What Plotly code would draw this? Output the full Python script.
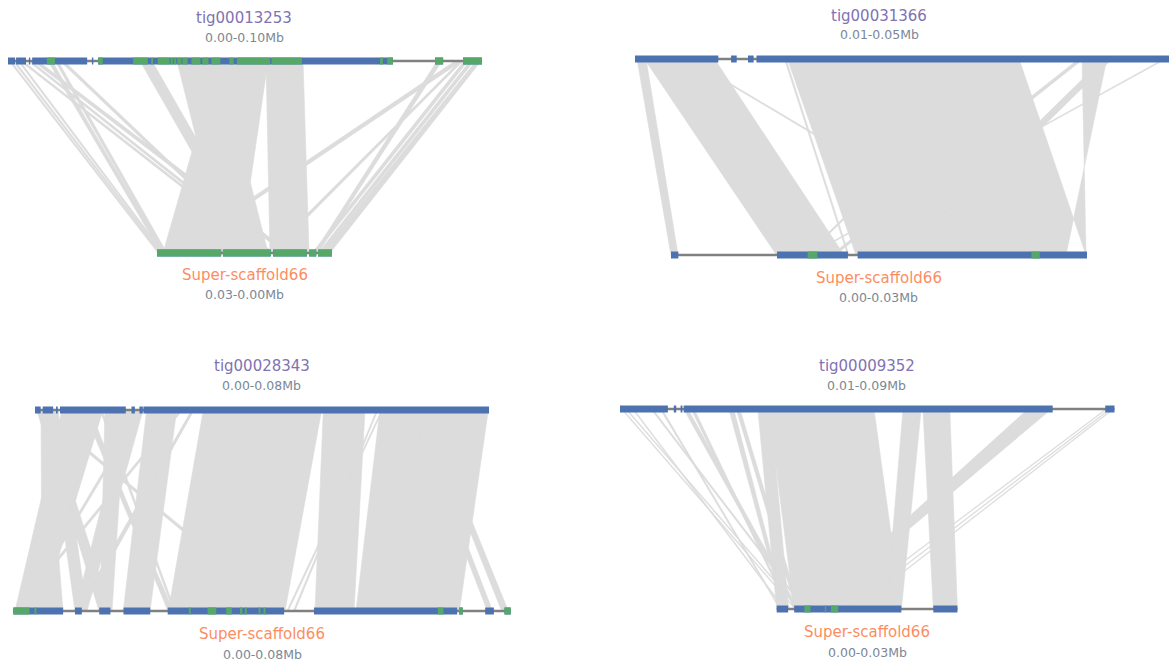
import plotly.graph_objects as go

# ---------------------------------------------------------------------------
# Data (positions in kb along each sequence)
# ---------------------------------------------------------------------------
# Panel 1: tig00013253 vs Super-scaffold66
p1_top_name, p1_top_range = "tig00013253", "0.00-0.10Mb"
p1_top_span = (0.0, 100.0)
p1_top_blocks = [(0.0, 1.5), (1.7, 3.8), (4.4, 4.7), (5.1, 16.7), (17.7, 18.0),
                 (19.0, 81.2), (90.1, 91.8), (96.0, 100.0)]
p1_top_green = [(8.2, 9.9), (19.0, 20.0), (26.4, 29.5), (30.2, 30.6), (31.6, 34.1),
                (34.3, 34.8), (35.0, 35.5), (35.7, 36.6), (36.8, 37.9), (38.7, 40.6),
                (41.0, 42.3), (42.9, 44.8), (46.7, 47.6), (48.3, 55.3), (55.6, 62.0),
                (78.5, 79.1), (80.0, 81.2), (90.1, 91.8), (96.0, 100.0)]
p1_bot_name, p1_bot_range = "Super-scaffold66", "0.03-0.00Mb"
p1_bot_span = (30.0, 0.0)
p1_bot_blocks = [(30.0, 19.0), (18.7, 10.5), (10.1, 4.3), (3.9, 2.7), (2.4, 0.0)]
p1_bot_green = [(30.0, 19.0), (18.7, 10.5), (10.1, 4.3), (3.9, 2.7), (2.4, 0.0)]
p1_links = [
    (0.21, 0.63, 29.83, 29.49), (1.05, 1.48, 29.49, 29.14), (2.11, 2.53, 29.14, 28.80),
    (8.44, 9.28, 29.31, 28.63), (9.92, 10.55, 28.80, 28.29), (2.53, 3.16, 11.31, 10.63),
    (4.22, 4.85, 10.63, 9.94), (5.27, 6.33, 8.23, 7.20), (10.97, 11.81, 12.00, 11.31),
    (27.85, 30.38, 14.06, 12.00), (35.65, 44.73, 18.34, 10.97), (44.30, 54.85, 28.97, 15.77),
    (54.43, 62.24, 10.63, 3.94),
    (96.20, 97.05, 3.43, 2.74), (97.47, 98.31, 2.40, 1.71), (98.73, 99.79, 1.71, 0.34),
    (90.51, 91.56, 3.09, 2.40), (94.30, 95.78, 27.77, 26.74), (95.36, 95.99, 10.97, 10.28),
]

# Panel 2: tig00031366 vs Super-scaffold66
p2_top_name, p2_top_range = "tig00031366", "0.01-0.05Mb"
p2_top_span = (10.0, 50.0)
p2_top_blocks = [(10.0, 15.9), (16.8, 17.2), (18.0, 18.4), (18.6, 50.0)]
p2_top_green = []
p2_bot_name, p2_bot_range = "Super-scaffold66", "0.00-0.03Mb"
p2_bot_span = (0.0, 30.0)
p2_bot_blocks = [(0.07, 0.6), (7.7, 12.8), (13.5, 30.0)]
p2_bot_green = [(9.9, 10.6), (26.0, 26.6)]
p2_links = [
    (10.14, 10.78, 0.07, 0.58), (10.67, 15.63, 7.66, 12.52), (13.68, 13.82, 24.89, 25.11),
    (20.58, 20.69, 12.78, 12.88), (20.80, 20.90, 13.38, 13.53), (20.83, 37.19, 13.53, 29.93),
    (36.12, 36.27, 9.76, 9.93), (47.43, 47.58, 9.93, 10.07), (41.40, 41.75, 11.60, 11.90),
    (43.13, 43.77, 16.76, 17.41), (41.65, 43.40, 29.93, 28.49),
]

# Panel 3: tig00028343 vs Super-scaffold66
p3_top_name, p3_top_range = "tig00028343", "0.00-0.08Mb"
p3_top_span = (0.0, 80.0)
p3_top_blocks = [(0.0, 1.0), (1.35, 3.2), (3.7, 4.0), (4.4, 16.0), (17.0, 17.6),
                 (18.4, 19.0), (19.1, 80.0)]
p3_top_green = []
p3_bot_name, p3_bot_range = "Super-scaffold66", "0.00-0.08Mb"
p3_bot_span = (0.0, 80.0)
p3_bot_blocks = [(0.1, 8.1), (10.0, 11.1), (13.9, 15.7), (17.8, 22.1), (24.9, 43.6),
                 (48.4, 71.4), (71.7, 72.3), (75.9, 77.3), (79.0, 80.0)]
p3_bot_green = [(0.1, 2.7), (3.5, 3.8), (28.3, 28.6), (31.3, 32.7), (34.3, 35.2),
                (36.5, 36.9), (37.3, 37.6), (39.5, 39.8), (40.3, 40.6), (68.3, 69.2),
                (71.7, 72.3), (79.0, 80.0)]
p3_links = [
    (60.79, 79.88, 55.15, 71.75), (50.81, 58.15, 48.56, 54.83), (29.66, 50.51, 25.00, 43.74),
    (60.21, 60.44, 45.08, 45.35), (61.09, 61.32, 44.01, 44.28), (66.08, 66.96, 76.25, 77.10),
    (68.14, 69.02, 78.55, 79.62),
    (4.76, 11.98, 0.37, 4.71), (1.06, 2.11, 4.71, 8.08), (2.11, 4.05, 10.01, 11.94),
    (12.33, 15.86, 14.02, 15.95), (16.04, 19.03, 10.01, 11.94), (19.68, 24.96, 17.77, 22.06),
    (0.18, 0.88, 42.80, 43.50), (0.88, 1.94, 13.86, 15.79),
    (18.50, 18.97, 1.17, 1.60), (25.55, 26.02, 0.10, 0.64), (27.61, 28.02, 10.28, 10.70),
    (11.45, 11.81, 25.80, 26.12), (0.29, 0.76, 14.02, 14.56), (8.52, 9.22, 25.00, 25.80),
    (27.67, 28.02, 10.81, 11.13), (9.34, 9.69, 24.95, 25.27),
]

# Panel 4: tig00009352 vs Super-scaffold66
p4_top_name, p4_top_range = "tig00009352", "0.01-0.09Mb"
p4_top_span = (10.0, 90.0)
p4_top_blocks = [(10.0, 17.75), (18.7, 19.1), (19.8, 20.1), (20.3, 80.0), (88.5, 90.0)]
p4_top_green = []
p4_bot_name, p4_bot_range = "Super-scaffold66", "0.00-0.03Mb"
p4_bot_span = (0.0, 30.0)
p4_bot_blocks = [(0.0, 1.9), (2.9, 20.7), (26.0, 30.0)]
p4_bot_green = [(4.6, 5.6), (8.0, 8.2), (9.0, 10.2)]
p4_links = [
    (32.30, 34.35, 0.0, 1.99), (34.06, 51.08, 2.9, 20.7), (55.79, 58.72, 18.2, 20.7),
    (59.01, 63.35, 26.0, 30.0), (76.0, 79.8, 5.0, 6.2),
    (88.6, 88.8, 10.5, 10.7), (89.2, 89.4, 11.8, 12.0), (89.7, 89.9, 13.0, 13.2),
    (10.2, 10.4, 3.0, 3.2), (10.9, 11.1, 3.6, 3.8), (12.0, 12.2, 1.2, 1.4),
    (15.0, 15.3, 4.5, 4.8), (16.5, 16.8, 0.5, 0.7),
    (20.3, 21.0, 3.0, 3.6), (21.5, 22.0, 1.9, 2.2),
    (27.6, 28.4, 1.0, 1.5), (28.8, 29.4, 3.2, 3.8),
]

# ---------------------------------------------------------------------------
# Page layout (screen pixels): track extents, track rows and text rows
# ---------------------------------------------------------------------------
PANELS = [
    dict(top=(8, 482, 61), bot=(157, 332, 253), head=(244, 18, 37), foot=(244.5, 275, 294),
         data=(p1_top_name, p1_top_range, p1_top_span, p1_top_blocks, p1_top_green,
               p1_bot_name, p1_bot_range, p1_bot_span, p1_bot_blocks, p1_bot_green, p1_links)),
    dict(top=(635, 1200, 59), bot=(670, 1087, 255), head=(879, 16, 34), foot=(878.5, 278, 297),
         data=(p2_top_name, p2_top_range, p2_top_span, p2_top_blocks, p2_top_green,
               p2_bot_name, p2_bot_range, p2_bot_span, p2_bot_blocks, p2_bot_green, p2_links)),
    dict(top=(35, 489, 410), bot=(12.7, 510.7, 611), head=(261.5, 366, 385), foot=(262, 634, 654),
         data=(p3_top_name, p3_top_range, p3_top_span, p3_top_blocks, p3_top_green,
               p3_bot_name, p3_bot_range, p3_bot_span, p3_bot_blocks, p3_bot_green, p3_links)),
    dict(top=(620, 1114.5, 409), bot=(776.7, 957.4, 609), head=(866.5, 366, 385), foot=(867, 632, 652),
         data=(p4_top_name, p4_top_range, p4_top_span, p4_top_blocks, p4_top_green,
               p4_bot_name, p4_bot_range, p4_bot_span, p4_bot_blocks, p4_bot_green, p4_links)),
]

BLUE = "#4c72b0"
GREEN = "#55a868"
BACKBONE = "#808080"
LINK = "#dcdcdc"
TITLE_TOP = "#8172b2"
TITLE_BOT = "#fc8d62"
SUBTITLE = "#7b8796"
FONT = "DejaVu Sans"
TRACK_W = 7


def scale(span, extent):
    k0, k1 = span
    x0, x1 = extent[0], extent[1]
    return lambda kb: x0 + (kb - k0) / (k1 - k0) * (x1 - x0)


def segments(pairs, fx, y):
    xs, ys = [], []
    for a, b in pairs:
        xs += [fx(a), fx(b), None]
        ys += [y, y, None]
    return xs, ys


fig = go.Figure()
annotations = []

for p in PANELS:
    (tname, trange, tspan, tblocks, tgreen,
     bname, brange, bspan, bblocks, bgreen, links) = p["data"]
    ft = scale(tspan, p["top"])
    fb = scale(bspan, p["bot"])
    yt, yb = p["top"][2], p["bot"][2]

    # alignment ribbons
    lx, ly = [], []
    for ts, te, bs, be in links:
        lx += [ft(ts), ft(te), fb(be), fb(bs), ft(ts), None]
        ly += [yt, yt, yb, yb, yt, None]
    fig.add_trace(go.Scatter(x=lx, y=ly, mode="lines", fill="toself", fillcolor=LINK,
                             line=dict(color=LINK, width=0.6), hoverinfo="skip"))

    for span, blocks, green, f, y in ((tspan, tblocks, tgreen, ft, yt),
                                      (bspan, bblocks, bgreen, fb, yb)):
        lo = min(min(b) for b in blocks)
        hi = max(max(b) for b in blocks)
        bx, by = segments([(lo, hi)], f, y)
        fig.add_trace(go.Scatter(x=bx, y=by, mode="lines",
                                 line=dict(color=BACKBONE, width=2.5), hoverinfo="skip"))
        bx, by = segments(blocks, f, y)
        fig.add_trace(go.Scatter(x=bx, y=by, mode="lines",
                                 line=dict(color=BLUE, width=TRACK_W), hoverinfo="skip"))
        if green:
            gx, gy = segments(green, f, y)
            fig.add_trace(go.Scatter(x=gx, y=gy, mode="lines",
                                     line=dict(color=GREEN, width=TRACK_W), hoverinfo="skip"))

    hx, hy1, hy2 = p["head"]
    fx_, fy1, fy2 = p["foot"]
    annotations += [
        dict(x=hx, y=hy1, text=tname, font=dict(family=FONT, size=15, color=TITLE_TOP)),
        dict(x=hx, y=hy2, text=trange, font=dict(family=FONT, size=12.5, color=SUBTITLE)),
        dict(x=fx_, y=fy1, text=bname, font=dict(family=FONT, size=15, color=TITLE_BOT)),
        dict(x=fx_, y=fy2, text=brange, font=dict(family=FONT, size=12.5, color=SUBTITLE)),
    ]

for a in annotations:
    a.update(xref="x", yref="y", showarrow=False, xanchor="center", yanchor="middle")

fig.update_layout(
    width=1169, height=664,
    margin=dict(l=0, r=0, t=0, b=0),
    paper_bgcolor="white", plot_bgcolor="white",
    showlegend=False,
    annotations=annotations,
    xaxis=dict(range=[0, 1169], visible=False, fixedrange=True),
    yaxis=dict(range=[664, 0], visible=False, fixedrange=True),
)

fig.write_html("out.html", config={"displayModeBar": False})
